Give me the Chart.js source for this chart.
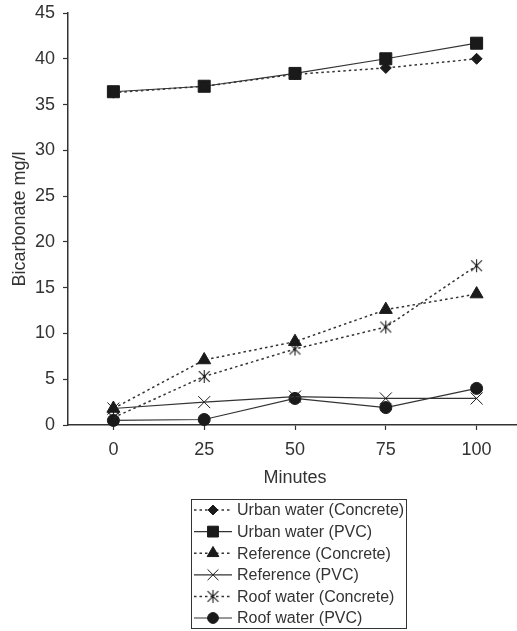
<!DOCTYPE html>
<html>
<head>
<meta charset="utf-8">
<script src="https://cdn.jsdelivr.net/npm/chart.js@4/dist/chart.umd.min.js"></script>
<style>
  html, body { margin: 0; padding: 0; background: #fff; overflow: hidden; }
  canvas { display: block; }
</style>
</head>
<body>
<canvas id="bicarbChart" width="522" height="631"></canvas>
<script>
const minutes = ['0', '25', '50', '75', '100'];
const urbanConcrete = [36.3, 37.0, 38.3, 39.0, 40.0];
const urbanPVC = [36.4, 37.0, 38.4, 40.0, 41.7];
const refConcrete = [1.8, 7.1, 9.1, 12.6, 14.3];
const refPVC = [1.8, 2.5, 3.1, 2.9, 2.9];
const roofConcrete = [0.8, 5.3, 8.3, 10.7, 17.4];
const roofPVC = [0.5, 0.6, 2.9, 1.9, 4.0];
const yTicks = [0, 5, 10, 15, 20, 25, 30, 35, 40, 45];

const ink = '#1a1a1a';
const lineInk = '#333';
const textInk = '#333';
const dotted = [2.5, 3];
const face = '"Liberation Sans", Arial, sans-serif';

// asterisk marker: an X with a vertical bar
function asterisk(size) {
  const c = document.createElement('canvas');
  c.width = size; c.height = size;
  const g = c.getContext('2d');
  const m = size / 2, d = size * 0.36;
  g.strokeStyle = ink;
  g.lineWidth = 1.1;
  g.beginPath();
  g.moveTo(m - d, m - d); g.lineTo(m + d, m + d);
  g.moveTo(m + d, m - d); g.lineTo(m - d, m + d);
  g.moveTo(m, 1); g.lineTo(m, size - 1);
  g.stroke();
  return c;
}

function series(label, data, style, radius, dashed) {
  return {
    label: label,
    data: data,
    borderColor: lineInk,
    borderWidth: dashed ? 1.5 : 1.2,
    borderDash: dashed ? dotted : [],
    pointStyle: style,
    pointRadius: radius,
    pointHoverRadius: radius,
    pointBackgroundColor: ink,
    pointBorderColor: ink,
    pointBorderWidth: 1,
    tension: 0,
    fill: false,
    clip: false
  };
}

// boxed legend under the chart, line sample + marker per row
const boxLegend = {
  id: 'boxLegend',
  afterDraw(chart) {
    const ctx = chart.ctx;
    const left = 191, top = 499, right = 406, bottom = 628;
    ctx.save();
    ctx.strokeStyle = '#333';
    ctx.lineWidth = 1;
    ctx.strokeRect(left + 0.5, top + 0.5, right - left, bottom - top);
    ctx.font = '16px ' + face;
    ctx.fillStyle = textInk;
    ctx.textBaseline = 'middle';
    chart.data.datasets.forEach((ds, i) => {
      const y = 510 + i * 21.6;
      ctx.save();
      ctx.strokeStyle = ds.borderColor;
      ctx.lineWidth = ds.borderWidth;
      ctx.setLineDash(ds.borderDash);
      ctx.beginPath();
      ctx.moveTo(194, y);
      ctx.lineTo(232, y);
      ctx.stroke();
      ctx.restore();
      ctx.save();
      ctx.fillStyle = ds.pointBackgroundColor;
      ctx.strokeStyle = ds.pointBorderColor;
      ctx.lineWidth = 1;
      Chart.helpers.drawPoint(ctx, {
        pointStyle: ds.pointStyle,
        radius: ds.pointRadius * 0.9,
        rotation: 0,
        borderWidth: 1
      }, 213, y);
      ctx.restore();
      ctx.fillText(ds.label, 237, y + 1);
    });
    ctx.restore();
  }
};

const ctx = document.getElementById('bicarbChart').getContext('2d');

new Chart(ctx, {
  type: 'line',
  data: {
    labels: minutes,
    datasets: [
      series('Urban water (Concrete)', urbanConcrete, 'rectRot', 5.5, true),
      series('Urban water (PVC)', urbanPVC, 'rect', 8.5, false),
      series('Reference (Concrete)', refConcrete, 'triangle', 7.5, true),
      series('Reference (PVC)', refPVC, 'crossRot', 8.5, false),
      series('Roof water (Concrete)', roofConcrete, asterisk(15), 7, true),
      series('Roof water (PVC)', roofPVC, 'circle', 6, false)
    ]
  },
  options: {
    responsive: false,
    animation: false,
    layout: {
      autoPadding: false,
      padding: { top: 13, left: 0, right: 0, bottom: 142 }
    },
    plugins: {
      legend: { display: false },
      tooltip: { enabled: false }
    },
    scales: {
      x: {
        offset: true,
        afterFit(scale) {
          scale.height = 64;
          scale.paddingLeft = 0;
          scale.paddingRight = 0;
        },
        border: { color: '#333', width: 1.5 },
        grid: {
          drawOnChartArea: false,
          tickLength: 5,
          tickColor: '#333',
          tickWidth: 1.2
        },
        ticks: {
          color: textInk,
          padding: 9,
          maxRotation: 0,
          font: { family: face, size: 18 }
        },
        title: {
          display: true,
          text: 'Minutes',
          color: textInk,
          padding: { top: 0, bottom: 0 },
          font: { family: face, size: 18 }
        }
      },
      y: {
        min: 0,
        max: 45,
        afterFit(scale) {
          scale.width = 68;
          scale.paddingTop = 0;
          scale.paddingBottom = 0;
        },
        afterBuildTicks(scale) {
          scale.ticks = yTicks.map(v => ({ value: v }));
        },
        border: { color: '#333', width: 1.5 },
        grid: {
          drawOnChartArea: false,
          tickLength: 5,
          tickColor: '#333',
          tickWidth: 1.2
        },
        ticks: {
          color: textInk,
          padding: 8,
          font: { family: face, size: 18 }
        },
        title: {
          display: true,
          text: 'Bicarbonate mg/l',
          color: textInk,
          padding: { top: 9, bottom: 0 },
          font: { family: face, size: 18 }
        }
      }
    }
  },
  plugins: [boxLegend]
});
</script>
</body>
</html>
